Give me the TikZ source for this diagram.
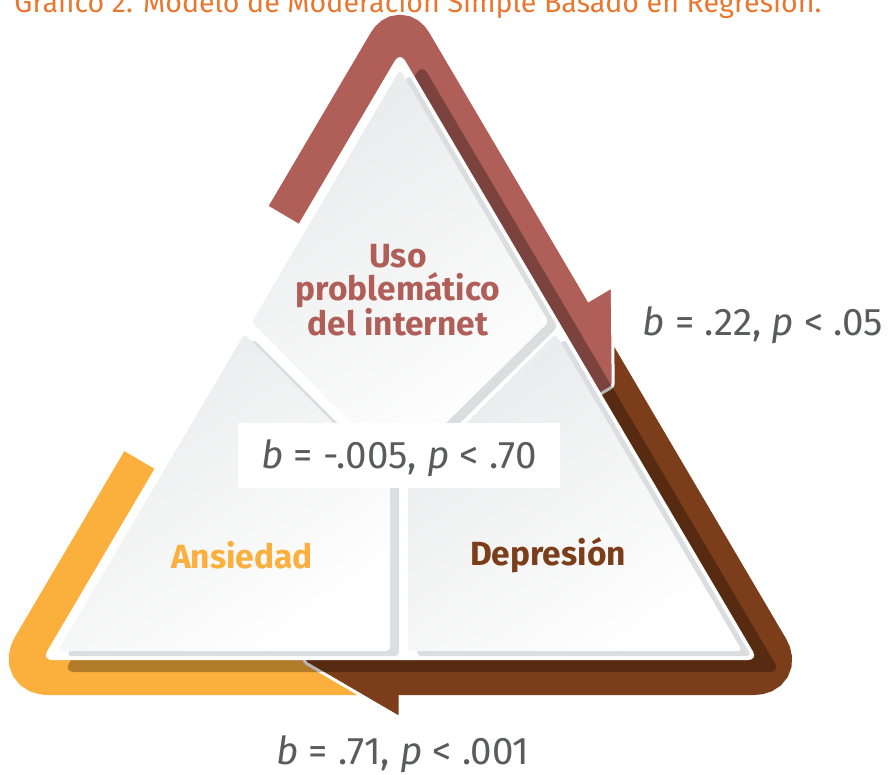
\documentclass[tikz,border=0pt]{standalone}
\usepackage{fontspec}
\setmainfont{Fira Sans}
\setsansfont{Fira Sans}
\newfontfamily\statfont{Fira Sans}
\usetikzlibrary{calc}
\definecolor{ured}{HTML}{AF5F58}
\definecolor{ubrown}{HTML}{7B3D1A}
\definecolor{uyellow}{HTML}{FBAF3C}
\definecolor{utitle}{HTML}{E9772F}
\definecolor{ustat}{HTML}{5A5B5D}
\definecolor{upiece}{HTML}{E9EAEB}
\definecolor{uedge}{HTML}{DCDDDE}
\tikzset{
  band/.style={line width=46pt, line cap=butt},
  headshape/.style={draw=white, line width=3pt, rounded corners=3pt},
  piecefill/.style={top color=upiece, bottom color=white, shading angle=35, rounded corners=4pt},
  pieceedge/.style={fill=uedge, rounded corners=4pt},
  labeltxt/.style={font=\fontsize{33.5}{33}\selectfont\bfseries, align=center, inner sep=0pt},
  stattxt/.style={font=\statfont\fontsize{38.5}{40}\selectfont, text=ustat, inner sep=0pt, anchor=base},
}
\begin{document}
\begin{tikzpicture}[x=1pt,y=-1pt]
\useasboundingbox (0,0) rectangle (889,774);
\clip (0,0) rectangle (889,774);
% main triangle and geometry
\coordinate (A) at (400,52);
\coordinate (B) at (42,660);
\coordinate (C) at (758,660);
\coordinate (I) at (400,455.35);
\coordinate (Ac) at ($(I)!1.05864!(A)$);
\coordinate (Bc) at ($(I)!1.05864!(B)$);
\coordinate (Cc) at ($(I)!1.05864!(C)$);
\coordinate (Ai) at ($(I)!0.956!(A)$);
\coordinate (Bi) at ($(I)!0.956!(B)$);
\coordinate (Ci) at ($(I)!0.956!(C)$);
% band end points
\coordinate (Sr) at ($(Ac)!0.294!(Bc)$);
\coordinate (Pr) at ($(Ac)!0.442!(Cc)$);
\coordinate (Pr2) at ($(Ac)!0.447!(Cc)$);
\coordinate (Sb) at ($(Ac)!0.449!(Cc)$);
\coordinate (Pb) at (400,672);
\coordinate (Pb2) at (395,672);
\coordinate (Sy) at ($(Ac)!0.675!(Bc)$);
\coordinate (Ye) at (388,672);
% red arrow head
\coordinate (RaIn) at ($(Pr)+(149.5:30)$);
\coordinate (RaBarb) at ($(Pr)+(-30.5:52)$);
\coordinate (RaTip) at ($(Pr)+(-30.5:2)+(59.5:86.6)$);
\coordinate (RaTipIn) at ($(Pr)+(149.5:30)+(59.5:86.6)$);
% brown arrow head
\coordinate (BaIn) at (400,642);
\coordinate (BaBarb) at (400,718);
\coordinate (BaTip) at (304,662);
\coordinate (BaTipIn) at (304,642);

% title (cut off at the top)
\node[font=\statfont\fontsize{28.6}{30}\selectfont, text=utitle, anchor=base, inner sep=0pt] (title) at (418,12)
  {Gráfico 2. Modelo de Moderación Simple Basado en Regresión.};

% bands
\draw[band, uyellow, rounded corners=28pt] (Sy) -- (Bc) -- (Ye);
\fill[ubrown, headshape] (BaIn) -- (BaBarb) -- (BaTip) -- (BaTipIn) -- cycle;
\draw[band, ubrown, rounded corners=26pt] (Sb) -- (Cc) -- (Pb2);
\fill[ured, headshape] (RaIn) -- (RaBarb) -- (RaTip) -- (RaTipIn) -- cycle;
\draw[band, ured, rounded corners=19pt] (Sr) -- (Ac) -- (Pr2);

% shadow of the triangle on the bands
\fill[black, opacity=0.29, rounded corners=10pt] ($(A)+(22,12)$) -- ($(B)+(22,12)$) -- ($(C)+(22,12)$) -- cycle;

% white triangle
\fill[white, rounded corners=10pt] (A) -- (B) -- (C) -- cycle;

% pieces
\coordinate (KL) at (252,322);
\coordinate (KB) at (398,470);
\coordinate (KR) at (548.6,322);
\coordinate (LT) at (244.4,334);
\coordinate (LM) at (390,479.6);
\coordinate (LB) at (390,651);
\coordinate (RT) at (555.6,334);
\coordinate (RM) at (408,481.6);
\coordinate (RB) at (408,651);
\begin{scope}
\clip[rounded corners=10pt] (A) -- (B) -- (C) -- cycle;
\fill[pieceedge] ($(Ai)+(9,5)$) -- ($(KL)+(9,5)$) -- ($(KB)+(9,5)$) -- ($(KR)+(9,5)$) -- cycle;
\fill[pieceedge] ($(LT)+(9,5)$) -- ($(LM)+(9,5)$) -- ($(LB)+(9,5)$) -- ($(Bi)+(9,5)$) -- cycle;
\fill[pieceedge] ($(RT)+(9,5)$) -- ($(RM)+(9,5)$) -- ($(RB)+(9,5)$) -- ($(Ci)+(9,5)$) -- cycle;
\end{scope}
\shade[piecefill] (Ai) -- (KL) -- (KB) -- (KR) -- cycle;
\shade[piecefill] (LT) -- (LM) -- (LB) -- (Bi) -- cycle;
\shade[piecefill] (RT) -- (RM) -- (RB) -- (Ci) -- cycle;

% labels
\node[labeltxt, text=ured] (uso) at (398,290) {Uso\\problemático\\del internet};
\node[labeltxt, text=uyellow] (ans) at (242,555) {Ansiedad};
\node[labeltxt, text=ubrown] (dep) at (548,555) {Depresión};

% statistics
\node[fill=white, minimum width=322pt, minimum height=65pt, inner sep=0pt] (box) at (399,455.5) {};
\node[stattxt] (s2) at (399,468) {\textit{b} = -.005, \textit{p} < .70};
\node[stattxt] (s1) at (763,335) {\textit{b} = .22, \textit{p} < .05};
\node[stattxt] (s3) at (403,764) {\textit{b} = .71, \textit{p} < .001};
\end{tikzpicture}
\end{document}
